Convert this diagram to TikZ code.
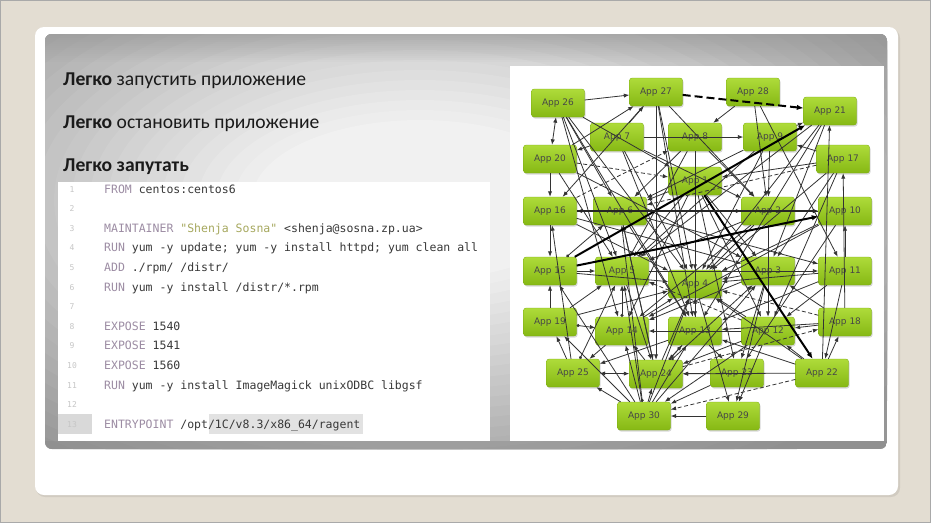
\documentclass[tikz,border=0pt]{standalone}
\usepackage{fontspec}
\setmainfont{Carlito}
\newfontfamily\appfont{DejaVu Sans}
\newfontfamily\codefont{DejaVu Sans Mono}
\usetikzlibrary{arrows.meta,shadows}

\definecolor{pagebg}{HTML}{E3DDD2}
\definecolor{frameline}{HTML}{A9A9A9}
\definecolor{panelout}{HTML}{969696}
\definecolor{panelin}{HTML}{F5F5F5}
\definecolor{apptop}{HTML}{AEDB3A}
\definecolor{appbot}{HTML}{86B814}
\definecolor{appline}{HTML}{7AAA10}
\definecolor{edgecol}{HTML}{333333}
\definecolor{kwcol}{HTML}{9C8CA3}
\definecolor{strcol}{HTML}{A6A85E}
\definecolor{codetext}{HTML}{383838}
\definecolor{linenocol}{HTML}{C6C6C6}
\definecolor{hlcol}{HTML}{E2E2E2}
\definecolor{gutterhl}{HTML}{D9D9D9}
\definecolor{headtext}{HTML}{1A1A1A}

\newcommand\dkw[1]{\textcolor{kwcol}{#1}}
\newcommand\dstr[1]{\textcolor{strcol}{#1}}

\begin{document}
\begin{tikzpicture}[x=1pt,y=-1pt,
  appbox/.style={rectangle, rounded corners=2.5pt, minimum width=53pt, minimum height=28pt,
    inner sep=0pt, top color=apptop, bottom color=appbot, draw=appline, line width=0.3pt,
    font=\appfont\fontsize{9}{10}\selectfont, text=black!72,
    drop shadow={shadow xshift=1pt, shadow yshift=-1.5pt, opacity=0.3}},
  edge/.style={draw=edgecol, line width=0.8pt, -{Latex[length=5.5pt,width=4.2pt]}},
  bothedge/.style={edge, {Latex[length=5.5pt,width=4.2pt]}-{Latex[length=5.5pt,width=4.2pt]}},
  dashedge/.style={edge, dash pattern=on 4pt off 2.5pt},
  dotedge/.style={edge, {Circle[length=3pt]}-{Latex[length=5.5pt,width=4.2pt]}},
  heavyedge/.style={draw=black, line width=2pt, -{Latex[length=6.5pt,width=5.5pt]}},
  midedge/.style={draw=black!85, line width=1.2pt, -{Latex[length=5.5pt,width=4.5pt]}},
  heavydash/.style={heavyedge, dash pattern=on 8pt off 4pt},
  codeline/.style={anchor=base west, inner sep=0pt, text=codetext, font=\codefont\fontsize{11.5}{14}\selectfont},
  lineno/.style={anchor=base, inner sep=0pt, text=linenocol, font=\codefont\fontsize{8}{10}\selectfont},
  headline/.style={anchor=base west, inner sep=0pt, text=headtext, font=\fontsize{19.6}{22}\selectfont}
]
\useasboundingbox (0,0) rectangle (931,523);

% slide background and frame
\fill[pagebg] (0,0) rectangle (931,523);
\draw[frameline, line width=1.4pt] (0.7,0.7) rectangle (930.3,522.3);

% white card
\fill[black, opacity=0.08, rounded corners=9pt] (36,29) rectangle (900,497);
\fill[white, rounded corners=9pt] (35,27) rectangle (898,495);

% gray content panel: stepped elliptical glow, darker top band and bottom rim
\begin{scope}
  \clip[rounded corners=7pt] (45,34) rectangle (887,449);
  \fill[panelout] (45,34) rectangle (887,449);
  \foreach \k in {0,...,24} {
    \pgfmathsetmacro\glow{4*\k}
    \fill[panelin!\glow!panelout] (420,200) ellipse ({600-18*\k} and {320-10*\k});
  }
  \foreach \k in {0,...,13} {
    \fill[panelout, opacity={0.06*(14-\k)/1.4}] (45,{34+2*\k}) rectangle (887,{36+2*\k});
  }
  \fill[black!45, opacity=0.5] (45,441) rectangle (887,449);
\end{scope}

% headings
\node[headline] (h1) at (63,85) {\textbf{Легко} запустить приложение};
\node[headline] (h2) at (63,128) {\textbf{Легко} остановить приложение};
\node[headline] (h3) at (63,171) {\textbf{Легко запутать}};

% code listing
\fill[white] (58,182) rectangle (490,441);
\fill[gutterhl] (58,414) rectangle (92,434);
\fill[hlcol] (209,414) rectangle (363,434);
\foreach \i in {1,...,13} {
  \node[lineno] (n\i) at (72,{189+(\i-1)*19.6+3}) {\i};
}
\node[codeline] (c1)  at (104,193)   {\dkw{FROM} centos:centos6};
\node[codeline] (c3)  at (104,232.2) {\dkw{MAINTAINER} \dstr{"Shenja Sosna"} <shenja@sosna.zp.ua>};
\node[codeline] (c4)  at (104,251.8) {\dkw{RUN} yum -y update; yum -y install httpd; yum clean all};
\node[codeline] (c5)  at (104,271.4) {\dkw{ADD} ./rpm/ /distr/};
\node[codeline] (c6)  at (104,291)   {\dkw{RUN} yum -y install /distr/*.rpm};
\node[codeline] (c8)  at (104,330.2) {\dkw{EXPOSE} 1540};
\node[codeline] (c9)  at (104,349.8) {\dkw{EXPOSE} 1541};
\node[codeline] (c10) at (104,369.4) {\dkw{EXPOSE} 1560};
\node[codeline] (c11) at (104,389)   {\dkw{RUN} yum -y install ImageMagick unixODBC libgsf};
\node[codeline] (c13) at (104,428.2) {\dkw{ENTRYPOINT} /opt/1C/v8.3/x86\_64/ragent};

% dependency graph
\fill[white] (510,66) rectangle (884,441);

\foreach \n/\x/\y in {26/558/103, 27/656/92, 28/753/92, 21/830/111,
    7/617/137, 8/695/137, 9/770/137, 20/550/159, 17/843/159, 1/695/181,
    16/550/211, 6/620/211, 2/768/211, 10/845/211,
    15/550/271, 5/622/271, 4/695/284, 3/768/271, 11/845/271,
    19/550/322, 14/622/331, 13/695/331, 12/768/331, 18/845/322,
    25/573/373, 24/656/374, 23/737/373, 22/822/373,
    30/644/416, 29/733/416} {
  \node[appbox] (a\n) at (\x,\y) {App \n};
}

% ordinary dependencies
\foreach \s/\t in {26/27, 28/8, 28/2, 28/11, 9/21, 17/9, 26/1, 26/6, 26/5, 26/14,
    7/27, 20/27, 27/13, 27/4, 27/24, 27/2, 7/9, 7/20, 20/16, 19/15, 25/19,
    29/30, 23/24, 22/24, 22/18, 11/22, 22/21, 18/17, 11/10, 18/12, 12/29, 4/29,
    13/23, 30/25, 30/19, 30/15, 30/14, 30/5, 30/4, 30/13, 30/24, 30/3,
    24/14, 24/6, 14/4, 13/4, 19/5, 15/5, 6/16, 16/15, 7/4, 7/13, 8/13, 8/5, 8/4,
    1/5, 1/6, 1/14, 1/3, 1/12, 2/14, 2/5, 2/4, 3/4, 3/14, 9/6, 9/5, 9/4,
    10/4, 10/6, 10/14, 11/13, 11/4, 17/12, 17/3, 17/4, 21/4, 21/5, 21/13,
    18/13, 18/3, 12/4, 12/14, 12/24, 13/24, 13/25, 14/25, 5/24, 6/24, 6/13,
    16/4, 16/3, 16/2, 20/5, 20/3, 26/13, 26/4, 7/2, 8/2, 8/6, 2/12, 3/29,
    3/23, 1/23, 10/23, 11/12, 22/12, 22/4, 22/13, 5/11, 6/11, 9/2, 12/30,
    23/30, 2/10, 17/1, 21/3, 27/16, 15/4, 19/4, 25/16, 24/4} {
  \draw[edge] (a\s) -- (a\t);
}
% mutual dependencies
\draw[bothedge] (a20) -- (a26);
\draw[bothedge] (a25) -- (a24);
% optional dependencies
\foreach \s/\t in {16/8, 18/4, 24/18, 22/30, 12/5, 20/1, 17/6} {
  \draw[dashedge] (a\s) -- (a\t);
}
% dependencies with a marked origin
\foreach \s/\t in {14/5, 15/6, 24/13, 30/6, 25/5, 19/14, 24/3} {
  \draw[dotedge] (a\s) -- (a\t);
}
% heavy dependencies
\draw[heavyedge] (a15) -- (a21);
\draw[heavyedge] (a15) -- (a10);
\draw[heavyedge] (a1) -- (a22);
\draw[midedge] (a16) -- (a10);
\draw[heavydash] (a27) -- (a21);
\end{tikzpicture}
\end{document}
